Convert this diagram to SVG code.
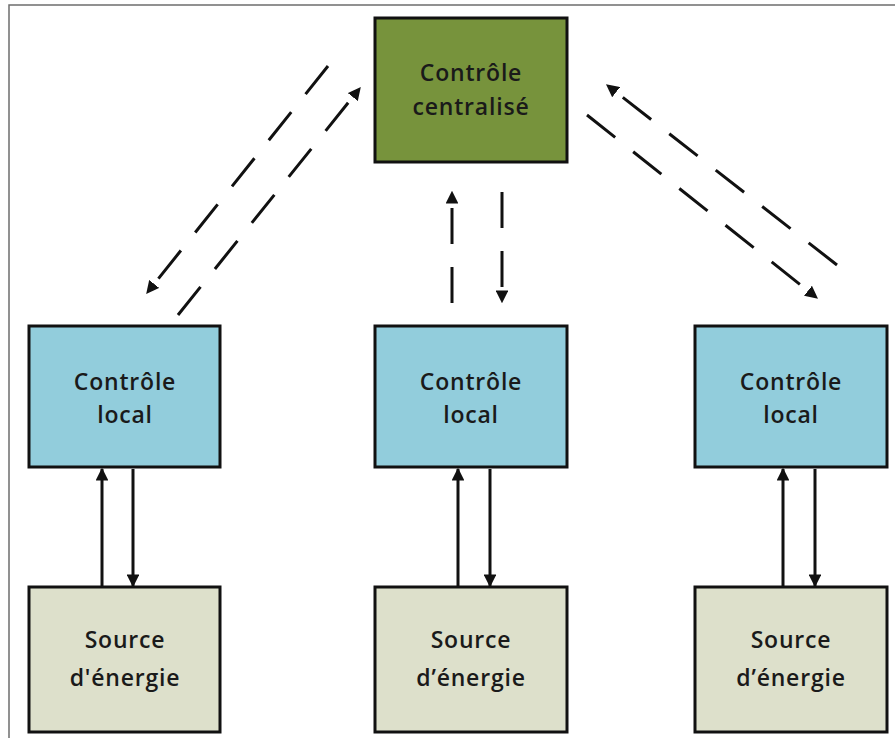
<svg xmlns="http://www.w3.org/2000/svg" width="895" height="738" viewBox="0 0 895 738">
<style>
.frame{fill:#fff;stroke:#6e6e6e;stroke-width:1.5}
.box{stroke:#111;stroke-width:3}
.green{fill:#77933c}
.blue{fill:#92cddc}
.tan{fill:#dde0cb}
.lbl{font-family:"Open Sans","Liberation Sans",sans-serif;font-size:23px;font-weight:600;letter-spacing:0.8px;fill:#1a1a1a;text-anchor:middle}
.solid{stroke:#111;stroke-width:3;fill:none}
.dash{stroke:#111;stroke-width:3;fill:none;stroke-dasharray:36 23}
</style>
<defs>
<marker id="ah" viewBox="0 0 10 10" refX="9" refY="5" markerWidth="4.3" markerHeight="4.3" orient="auto" markerUnits="strokeWidth">
<path d="M0,0 L10,5 L0,10 z" fill="#111"/>
</marker>
</defs>
<rect class="frame" x="9" y="5" width="900" height="760"/>
<g id="connectors">
<line class="dash" x1="328" y1="66" x2="147" y2="293" marker-end="url(#ah)"/>
<line class="dash" x1="178" y1="315" x2="360" y2="88" marker-end="url(#ah)"/>
<line class="dash" x1="452" y1="303" x2="452" y2="192" marker-end="url(#ah)"/>
<line class="dash" x1="502" y1="192" x2="502" y2="302" marker-end="url(#ah)"/>
<line class="dash" x1="837" y1="265" x2="607" y2="85" marker-end="url(#ah)"/>
<line class="dash" x1="587" y1="115" x2="817" y2="298" marker-end="url(#ah)"/>
<line class="solid" x1="102" y1="586" x2="102" y2="469" marker-end="url(#ah)"/>
<line class="solid" x1="133" y1="469" x2="133" y2="586" marker-end="url(#ah)"/>
<line class="solid" x1="458" y1="586" x2="458" y2="469" marker-end="url(#ah)"/>
<line class="solid" x1="490" y1="469" x2="490" y2="586" marker-end="url(#ah)"/>
<line class="solid" x1="783" y1="586" x2="783" y2="469" marker-end="url(#ah)"/>
<line class="solid" x1="815" y1="469" x2="815" y2="586" marker-end="url(#ah)"/>
</g>
<g id="central">
<rect class="box green" x="375" y="18" width="192" height="144"/>
<text class="lbl" x="471" y="81">Contrôle</text>
<text class="lbl" x="471" y="115">centralisé</text>
</g>
<g id="local1">
<rect class="box blue" x="29" y="326" width="191" height="141"/>
<text class="lbl" x="125" y="390">Contrôle</text>
<text class="lbl" x="125" y="423">local</text>
</g>
<g id="local2">
<rect class="box blue" x="375" y="326" width="192" height="141"/>
<text class="lbl" x="471" y="390">Contrôle</text>
<text class="lbl" x="471" y="423">local</text>
</g>
<g id="local3">
<rect class="box blue" x="695" y="326" width="192" height="141"/>
<text class="lbl" x="791" y="390">Contrôle</text>
<text class="lbl" x="791" y="423">local</text>
</g>
<g id="source1">
<rect class="box tan" x="29" y="587" width="191" height="145"/>
<text class="lbl" x="125" y="648">Source</text>
<text class="lbl" x="125" y="686">d'énergie</text>
</g>
<g id="source2">
<rect class="box tan" x="375" y="587" width="192" height="145"/>
<text class="lbl" x="471" y="648">Source</text>
<text class="lbl" x="471" y="686">d’énergie</text>
</g>
<g id="source3">
<rect class="box tan" x="695" y="587" width="192" height="145"/>
<text class="lbl" x="791" y="648">Source</text>
<text class="lbl" x="791" y="686">d’énergie</text>
</g>
</svg>
